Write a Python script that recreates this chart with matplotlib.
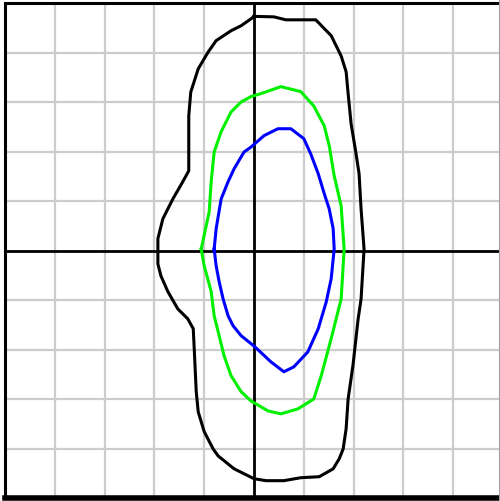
import matplotlib
matplotlib.use("Agg")
import matplotlib.pyplot as plt
from matplotlib.lines import Line2D

# contour points, grid units (one grid square = 1)
outer_x = [0.00, 0.40, 0.64, 1.24, 1.55, 1.75, 1.85, 1.89, 1.95, 2.05, 2.11, 2.15, 2.21,
           2.15, 2.09, 1.99, 1.89, 1.85, 1.79, 1.71, 1.59, 1.31, 0.94, 0.60, 0.24, 0.00,
           -0.40, -0.72, -0.82, -1.00, -1.12, -1.16, -1.20, -1.22, -1.33, -1.53, -1.73,
           -1.87, -1.93, -1.93, -1.83, -1.63, -1.43, -1.31, -1.31, -1.27, -1.12, -0.92,
           -0.76, -0.46, -0.26, -0.06]
outer_y = [4.73, 4.72, 4.66, 4.66, 4.34, 3.93, 3.61, 3.17, 2.56, 1.95, 1.55, 0.84, 0.03,
           -0.98, -1.39, -2.30, -3.00, -3.60, -4.01, -4.21, -4.41, -4.57, -4.59, -4.65,
           -4.65, -4.61, -4.41, -4.15, -4.01, -3.66, -3.26, -2.85, -1.99, -1.58, -1.38,
           -1.18, -0.83, -0.51, -0.27, 0.24, 0.64, 1.04, 1.39, 1.61, 2.72, 3.20, 3.67,
           4.01, 4.24, 4.44, 4.54, 4.68]

middle_x = [-1.06, -0.90, -0.86, -0.80, -0.66, -0.46, -0.26, -0.06, 0.14, 0.54, 0.94, 1.20,
            1.41, 1.51, 1.61, 1.75, 1.81, 1.75, 1.55, 1.35, 1.20, 0.88, 0.54, 0.28, -0.06,
            -0.26, -0.46, -0.60, -0.70, -0.80, -0.86, -1.00]
middle_y = [0.03, 0.78, 1.39, 1.99, 2.40, 2.80, 3.00, 3.11, 3.17, 3.31, 3.21, 2.92, 2.52,
            2.12, 1.51, 0.90, 0.03, -0.98, -1.78, -2.53, -3.00, -3.20, -3.30, -3.24, -3.04,
            -2.85, -2.53, -2.13, -1.72, -1.32, -0.83, -0.31]

inner_x = [-0.80, -0.76, -0.66, -0.52, -0.40, -0.20, -0.06, 0.20, 0.48, 0.74, 1.00, 1.14,
           1.29, 1.41, 1.51, 1.59, 1.61, 1.55, 1.45, 1.29, 1.08, 0.80, 0.60, 0.34, 0.00,
           -0.26, -0.42, -0.52, -0.62, -0.70, -0.76]
inner_y = [0.03, 0.44, 1.04, 1.39, 1.65, 1.99, 2.09, 2.32, 2.46, 2.46, 2.26, 1.95, 1.55,
           1.15, 0.84, 0.44, 0.03, -0.57, -1.04, -1.58, -2.05, -2.35, -2.45, -2.25, -1.93,
           -1.72, -1.52, -1.32, -0.98, -0.63, -0.31]

fig = plt.figure(figsize=(5.0, 5.02), dpi=100)
ax = fig.add_axes([5 / 500, 3 / 502, 498 / 500, 495 / 502])
ax.set_xlim(-5, 5)
ax.set_ylim(-5, 5)

# grid
for v in range(-4, 5):
    if v == 0:
        continue
    ax.axvline(v, color="#cccccc", lw=1.6, zorder=1)
    ax.axhline(v, color="#cccccc", lw=1.6, zorder=1)
ax.axvline(0, color="black", lw=2.0, zorder=2)
ax.axhline(0, color="black", lw=2.0, zorder=2)

def closed(xs, ys):
    return list(xs) + [xs[0]], list(ys) + [ys[0]]

for xs, ys, col in [(outer_x, outer_y, "black"),
                    (middle_x, middle_y, "#00f000"),
                    (inner_x, inner_y, "#0000ff")]:
    cx, cy = closed(xs, ys)
    ax.plot(cx, cy, color=col, lw=2.2, zorder=3, solid_joinstyle="round")

ax.set_xticks([])
ax.set_yticks([])
for side in ax.spines.values():
    side.set_color("black")
ax.spines["right"].set_visible(False)
ax.spines["left"].set_linewidth(2.2)
ax.spines["top"].set_linewidth(2.2)
ax.spines["bottom"].set_linewidth(4.0)

fig.add_artist(Line2D([0.998, 0.998], [0, 1], color="#a0a0a0", lw=0.8,
                      transform=fig.transFigure))

fig.savefig("out.png", dpi=100)
